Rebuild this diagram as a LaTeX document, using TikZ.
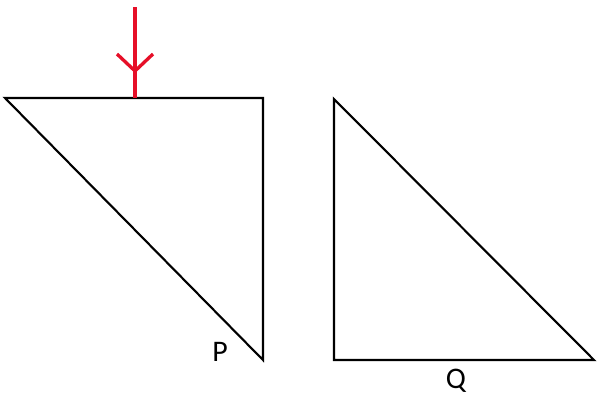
\documentclass[tikz,border=0pt]{standalone}
\usepackage{fontspec}
\setmainfont{Carlito}
\definecolor{forcered}{RGB}{230,15,40}
\begin{document}
\begin{tikzpicture}[x=0.02cm,y=-0.02cm]
      \useasboundingbox (0,0) rectangle (600,400);

      \begin{scope}[every coordinate/.style={}]
        \coordinate (p1) at (5,98);
        \coordinate (p2) at (263,98);
        \coordinate (p3) at (263,360);
        \coordinate (q1) at (334,99);
        \coordinate (q2) at (334,360);
        \coordinate (q3) at (594,360);
        \coordinate (ftop) at (135,7);
        \coordinate (fbot) at (135,98);
        \coordinate (fmid) at (135,71);
        \coordinate (fl) at (117,54);
        \coordinate (fr) at (153,54);
      \end{scope}

      \begin{scope}[every node/.style={font=\fontsize{17}{19}\selectfont}]
        \node (P) at (220,352) {P};
        \node (Q) at (456,381) {Q};
      \end{scope}

      \begin{scope}[line width=1.2pt,line join=miter]
        \draw (p1) -- (p2) -- (p3) -- cycle;
        \draw (q1) -- (q2) -- (q3) -- cycle;
      \end{scope}

      \begin{scope}[forcered,line width=1.9pt]
        \draw (ftop) -- (fbot);
        \draw (fl) -- (fmid) -- (fr);
      \end{scope}

    \end{tikzpicture}
\end{document}
